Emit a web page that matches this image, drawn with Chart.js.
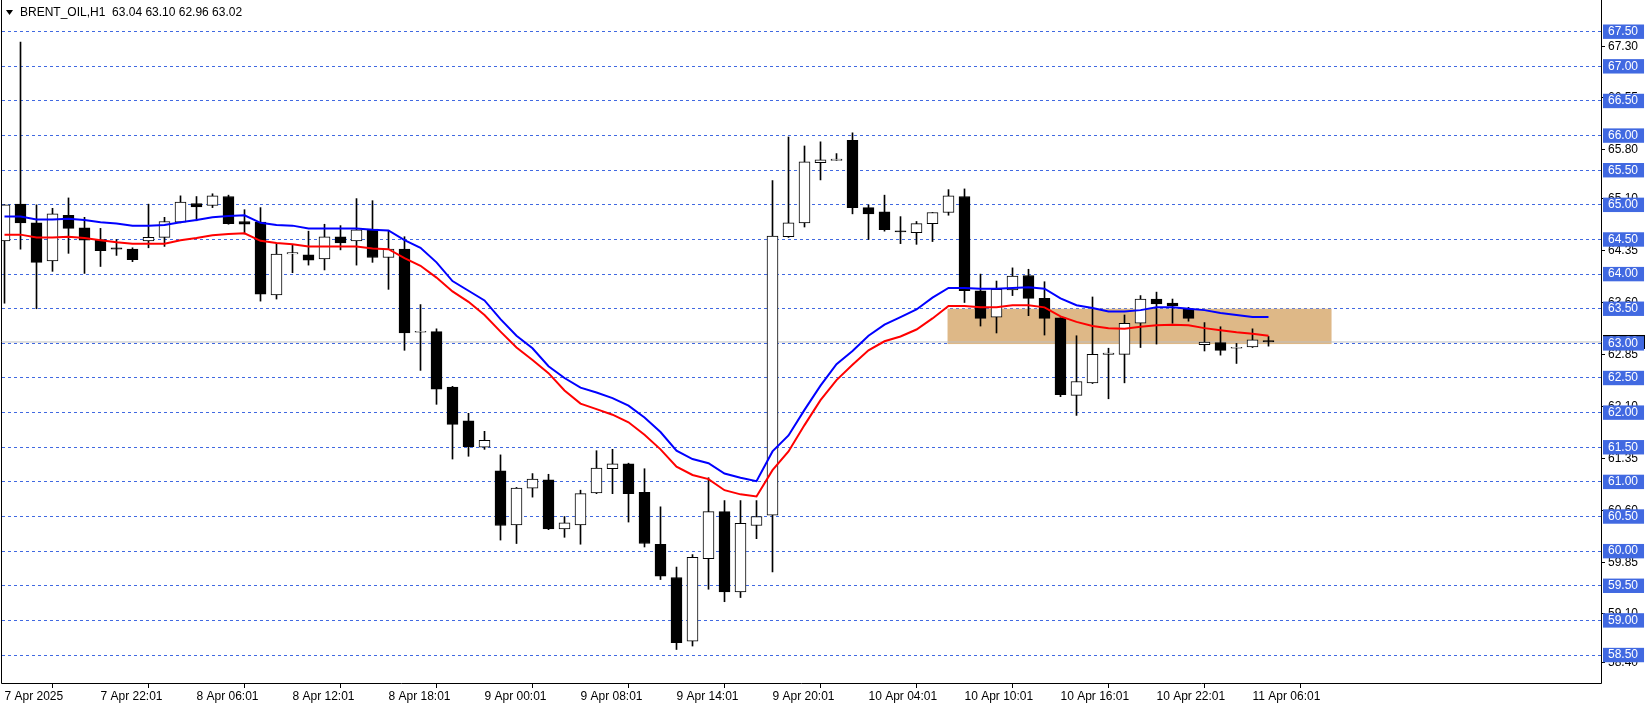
<!DOCTYPE html>
<html>
<head>
<meta charset="utf-8">
<title>BRENT_OIL,H1</title>
<script src="https://cdn.jsdelivr.net/npm/chart.js@4.4.1/dist/chart.umd.min.js"></script>
<style>
    html, body { margin: 0; padding: 0; background: #fff; }
    #contenedor { width: 1651px; height: 707px; position: relative; }
</style>
</head>
<body>
<div id="contenedor"><canvas id="grafico"></canvas></div>
<script>
// Velas H1 (barra 0 = 7 Apr 2025)
const aperturas = [64.48, 65.01, 64.74, 64.19, 64.85, 64.67, 64.50, 64.38, 64.36, 64.48,
    64.53, 64.75, 65.02, 64.99, 65.12, 64.76, 64.75, 63.70, 64.29, 64.28,
    64.22, 64.54, 64.48, 64.65, 64.24, 64.36, 63.16, 63.17, 62.37, 61.88,
    61.50, 61.16, 60.38, 60.91, 61.03, 60.32, 60.38, 60.84, 61.19, 61.26,
    60.85, 60.10, 59.62, 58.70, 59.89, 60.57, 59.41, 60.37, 60.52, 64.54,
    64.74, 65.61, 65.64, 65.93, 64.96, 64.90, 64.62, 64.60, 64.73, 64.89,
    65.12, 63.76, 63.38, 63.77, 63.98, 63.65, 63.37, 62.25, 62.43, 62.84,
    62.84, 63.29, 63.64, 63.58, 63.50, 62.98, 63.01, 62.93, 62.95, 63.04];
const maximos = [65.00, 67.35, 65.00, 64.95, 65.10, 64.82, 64.66, 64.50, 64.38, 65.01,
    64.82, 65.13, 65.12, 65.16, 65.14, 64.93, 64.96, 64.44, 64.42, 64.62,
    64.72, 64.70, 65.09, 65.06, 64.63, 64.54, 63.56, 63.21, 62.38, 61.99,
    61.73, 61.39, 60.92, 61.12, 61.11, 60.50, 60.88, 61.45, 61.47, 61.27,
    61.19, 60.64, 59.77, 59.95, 61.06, 60.73, 60.73, 60.73, 65.35, 65.98,
    65.85, 65.91, 65.74, 66.04, 65.00, 65.14, 64.83, 64.76, 64.89, 65.22,
    65.23, 64.00, 63.90, 64.09, 64.07, 63.89, 63.37, 63.11, 63.67, 62.93,
    63.41, 63.69, 63.74, 63.64, 63.52, 63.30, 63.24, 63.00, 63.21, 63.10];
const minimos = [63.58, 64.36, 63.50, 64.04, 64.30, 64.01, 64.11, 64.27, 64.18, 64.38,
    64.40, 64.74, 64.77, 64.96, 64.72, 64.58, 63.61, 63.64, 64.02, 64.13,
    64.06, 64.35, 64.13, 64.17, 63.78, 62.90, 62.61, 62.12, 61.33, 61.37,
    61.47, 60.16, 60.11, 60.78, 60.31, 60.20, 60.10, 60.83, 60.83, 60.42,
    60.06, 59.59, 58.58, 58.63, 59.45, 59.27, 59.33, 60.18, 59.70, 64.53,
    64.68, 65.36, 65.64, 64.87, 64.50, 64.62, 64.44, 64.43, 64.47, 64.85,
    63.59, 63.25, 63.15, 63.69, 63.40, 63.12, 62.23, 61.96, 62.42, 62.20,
    62.43, 62.94, 62.99, 63.29, 63.32, 62.89, 62.83, 62.71, 62.94, 62.96];
const cierres = [65.00, 64.74, 64.17, 64.87, 64.66, 64.49, 64.34, 64.36, 64.21, 64.53,
    64.76, 65.04, 64.97, 65.13, 64.73, 64.72, 63.71, 64.29, 64.31, 64.20,
    64.54, 64.45, 64.64, 64.24, 64.36, 63.15, 63.17, 62.34, 61.83, 61.51,
    61.60, 60.37, 60.91, 61.04, 60.32, 60.41, 60.83, 61.20, 61.26, 60.83,
    60.11, 59.64, 58.68, 59.91, 60.57, 59.41, 60.40, 60.50, 64.55, 64.74,
    65.62, 65.65, 65.66, 64.96, 64.87, 64.64, 64.61, 64.73, 64.89, 65.13,
    63.76, 63.36, 63.78, 63.97, 63.65, 63.36, 62.26, 62.45, 62.84, 62.86,
    63.29, 63.64, 63.57, 63.54, 63.36, 63.02, 62.90, 62.94, 63.05, 63.02];

// Medias móviles (azul y roja)
const mediaAzul = [64.83, 64.83, 64.79, 64.79, 64.80, 64.78, 64.75, 64.73, 64.70, 64.70,
    64.71, 64.75, 64.78, 64.82, 64.84, 64.85, 64.74, 64.71, 64.70, 64.66,
    64.66, 64.66, 64.66, 64.64, 64.63, 64.49, 64.38, 64.17, 63.90, 63.76,
    63.62, 63.35, 63.11, 62.93, 62.67, 62.50, 62.36, 62.29, 62.21, 62.10,
    61.93, 61.72, 61.45, 61.33, 61.27, 61.12, 61.06, 61.01, 61.44, 61.67,
    62.04, 62.39, 62.70, 62.89, 63.11, 63.27, 63.38, 63.49, 63.66, 63.80,
    63.80, 63.79, 63.79, 63.80, 63.81, 63.79, 63.65, 63.55, 63.51, 63.46,
    63.46, 63.48, 63.52, 63.52, 63.50, 63.48, 63.44, 63.41, 63.38, 63.38];
const mediaRoja = [64.57, 64.57, 64.53, 64.53, 64.54, 64.52, 64.49, 64.46, 64.44, 64.44,
    64.44, 64.49, 64.52, 64.56, 64.58, 64.59, 64.48, 64.45, 64.43, 64.40,
    64.40, 64.40, 64.40, 64.37, 64.36, 64.23, 64.12, 63.95, 63.75, 63.60,
    63.41, 63.17, 62.94, 62.76, 62.57, 62.32, 62.13, 62.05, 61.97, 61.86,
    61.68, 61.47, 61.22, 61.10, 61.04, 60.88, 60.82, 60.79, 61.17, 61.44,
    61.82, 62.18, 62.47, 62.69, 62.90, 63.03, 63.10, 63.20, 63.36, 63.54,
    63.54, 63.52, 63.52, 63.55, 63.55, 63.52, 63.39, 63.31, 63.25, 63.22,
    63.21, 63.24, 63.26, 63.27, 63.26, 63.22, 63.19, 63.16, 63.14, 63.11];

// Eje de tiempo: una etiqueta cada 6 barras
const etiquetasTiempo = ['7 Apr 2025', '7 Apr 22:01', '8 Apr 06:01', '8 Apr 12:01', '8 Apr 18:01',
    '9 Apr 00:01', '9 Apr 08:01', '9 Apr 14:01', '9 Apr 20:01', '10 Apr 04:01',
    '10 Apr 10:01', '10 Apr 16:01', '10 Apr 22:01', '11 Apr 06:01'];
const barrasEtiqueta = [0, 6, 12, 18, 24, 30, 36, 42, 48, 54, 60, 66, 72, 78];

// Niveles de la escala de precios
const nivelesPrecio = [58.5, 59.0, 59.5, 60.0, 60.5, 61.0, 61.5, 62.0, 62.5, 63.0,
    63.5, 64.0, 64.5, 65.0, 65.5, 66.0, 66.5, 67.0, 67.5];
const marcasPrecio = [67.30, 66.55, 65.80, 65.10, 64.35, 63.60, 62.85, 62.10, 61.35,
    60.60, 59.85, 59.10, 58.40];
const precioActual = 63.02;

// Zona rectangular (desde barra, hasta barra, precio bajo, precio alto)
const zonaBarras = [58.94, 82.94];
const zonaPrecios = [62.99, 63.50];

const AZUL_ESCALA = '#4169E1';
const FUENTE = 'Liberation Sans, Arial, sans-serif';

const indices = aperturas.map((_, i) => i);

// Dibuja las etiquetas negras de la escala y la caja del precio actual (debajo de las azules)
const pluginEscala = {
    id: 'escalaNegra',
    beforeDraw(chart) {
        const ctx = chart.ctx;
        const ejeY = chart.scales.y;
        const area = chart.chartArea;
        ctx.save();
        ctx.font = '12px ' + FUENTE;
        ctx.textBaseline = 'middle';
        ctx.textAlign = 'left';
        ctx.fillStyle = '#000';
        ctx.strokeStyle = '#000';
        ctx.lineWidth = 1;
        marcasPrecio.forEach(v => {
            const y = Math.round(ejeY.getPixelForValue(v)) + 0.5;
            ctx.beginPath();
            ctx.moveTo(area.right, y);
            ctx.lineTo(area.right + 4, y);
            ctx.stroke();
            ctx.fillText(v.toFixed(2), area.right + 7, y);
        });
        const yp = ejeY.getPixelForValue(precioActual);
        ctx.fillRect(area.right + 2, yp - 7, 42, 14);
        ctx.fillStyle = '#fff';
        ctx.fillText(precioActual.toFixed(2), area.right + 7, yp);
        ctx.restore();
    }
};

// Rectángulo de la zona, detrás de las velas
const pluginZona = {
    id: 'zona',
    beforeDatasetsDraw(chart) {
        const ctx = chart.ctx;
        const ejeX = chart.scales.x;
        const ejeY = chart.scales.y;
        const area = chart.chartArea;
        const x1 = ejeX.getPixelForValue(zonaBarras[0]);
        const x2 = Math.min(ejeX.getPixelForValue(zonaBarras[1]), area.right);
        const y1 = ejeY.getPixelForValue(zonaPrecios[1]);
        const y2 = ejeY.getPixelForValue(zonaPrecios[0]);
        ctx.save();
        ctx.fillStyle = '#DEB887';
        ctx.fillRect(x1, y1, x2 - x1, y2 - y1);
        ctx.restore();
    }
};

// Marco del gráfico y cabecera con el símbolo
const pluginMarco = {
    id: 'marco',
    afterDraw(chart) {
        const ctx = chart.ctx;
        const area = chart.chartArea;
        ctx.save();
        ctx.strokeStyle = '#000';
        ctx.lineWidth = 1;
        ctx.beginPath();
        ctx.moveTo(area.left - 0.5, 0);
        ctx.lineTo(area.left - 0.5, area.bottom + 0.5);
        ctx.lineTo(area.right + 0.5, area.bottom + 0.5);
        ctx.lineTo(area.right + 0.5, 0);
        ctx.stroke();

        const n = aperturas.length - 1;
        const cabecera = 'BRENT_OIL,H1  ' + aperturas[n].toFixed(2) + ' ' + maximos[n].toFixed(2) + ' ' +
            minimos[n].toFixed(2) + ' ' + cierres[n].toFixed(2);
        ctx.fillStyle = '#000';
        ctx.beginPath();
        ctx.moveTo(6, 10);
        ctx.lineTo(13, 10);
        ctx.lineTo(9.5, 15);
        ctx.closePath();
        ctx.fill();
        ctx.font = '12px ' + FUENTE;
        ctx.textBaseline = 'middle';
        ctx.fillText(cabecera, 20, 13);
        ctx.restore();
    }
};

const ctxGrafico = document.getElementById('grafico').getContext('2d');
new Chart(ctxGrafico, {
    type: 'bar',
    data: {
        datasets: [
            {
                type: 'line',
                label: 'Media azul',
                data: indices.map(i => ({ x: i, y: mediaAzul[i] })),
                borderColor: '#0000FF',
                borderWidth: 2,
                pointRadius: 0,
                tension: 0,
                order: 0
            },
            {
                type: 'line',
                label: 'Media roja',
                data: indices.map(i => ({ x: i, y: mediaRoja[i] })),
                borderColor: '#FF0000',
                borderWidth: 2,
                pointRadius: 0,
                tension: 0,
                order: 1
            },
            {
                label: 'Cuerpos',
                data: indices.map(i => ({ x: i, y: [aperturas[i], cierres[i]] })),
                backgroundColor: indices.map(i => cierres[i] >= aperturas[i] ? '#FFFFFF' : '#000000'),
                borderColor: '#000000',
                borderWidth: 1,
                borderSkipped: false,
                barThickness: 11,
                minBarLength: 1,
                grouped: false,
                order: 2
            },
            {
                label: 'Mechas',
                data: indices.map(i => ({ x: i, y: [minimos[i], maximos[i]] })),
                backgroundColor: '#000000',
                borderWidth: 0,
                barThickness: 1,
                grouped: false,
                order: 3
            },
            {
                type: 'line',
                label: 'Precio',
                data: [{ x: -1, y: precioActual }, { x: 101, y: precioActual }],
                borderColor: '#C0C0C0',
                borderWidth: 1,
                pointRadius: 0,
                order: 4
            }
        ]
    },
    options: {
        responsive: true,
        maintainAspectRatio: false,
        animation: false,
        devicePixelRatio: 1,
        layout: { padding: { left: 2, top: 0, right: 0, bottom: 0 } },
        plugins: {
            legend: { display: false },
            tooltip: { enabled: false }
        },
        scales: {
            x: {
                type: 'linear',
                min: -0.15625,
                max: 99.78125,
                offset: false,
                afterBuildTicks: eje => { eje.ticks = barrasEtiqueta.map(v => ({ value: v })); },
                afterFit: eje => {
                    eje.height = 24;
                    eje.paddingLeft = 0;
                    eje.paddingRight = 0;
                },
                grid: {
                    drawOnChartArea: false,
                    drawTicks: true,
                    tickLength: 5,
                    tickColor: '#000',
                    color: '#000'
                },
                border: { display: false },
                ticks: {
                    autoSkip: false,
                    maxRotation: 0,
                    align: 'start',
                    padding: 1,
                    color: '#000',
                    font: { family: FUENTE, size: 12 },
                    callback: v => etiquetasTiempo[barrasEtiqueta.indexOf(v)]
                }
            },
            y: {
                position: 'right',
                min: 58.0963,
                max: 67.9577,
                afterBuildTicks: eje => { eje.ticks = nivelesPrecio.map(v => ({ value: v })); },
                afterFit: eje => {
                    eje.width = 50;
                    eje.paddingTop = 0;
                    eje.paddingBottom = 0;
                },
                grid: {
                    drawTicks: false,
                    color: AZUL_ESCALA,
                    lineWidth: 1
                },
                border: { display: false, dash: [3, 3] },
                ticks: {
                    autoSkip: false,
                    padding: 7,
                    color: '#FFFFFF',
                    font: { family: FUENTE, size: 12 },
                    showLabelBackdrop: true,
                    backdropColor: AZUL_ESCALA,
                    backdropPadding: { left: 5, right: 6, top: 0, bottom: 0 },
                    callback: v => v.toFixed(2)
                }
            }
        }
    },
    plugins: [pluginEscala, pluginZona, pluginMarco]
});
</script>
</body>
</html>
